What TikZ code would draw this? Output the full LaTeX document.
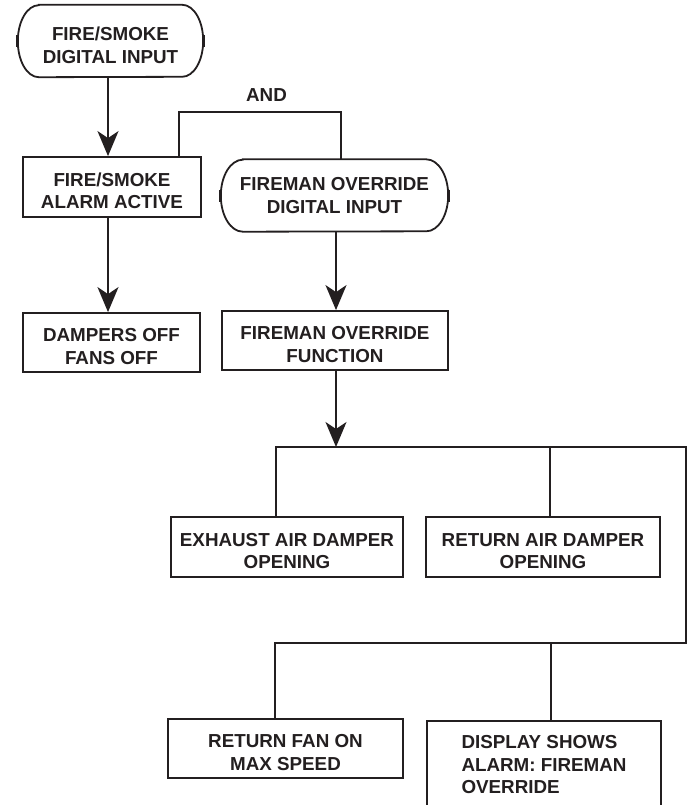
\documentclass[tikz,border=0pt]{standalone}
\usepackage{fontspec}
\setmainfont{Liberation Sans}
\usetikzlibrary{arrows.meta,calc}
\definecolor{ink}{HTML}{231F20}

% Outline of a terminal (start/input) symbol around a borderless node:
% #1 node name, #2 half height, #3 depth of the curved ends
\newcommand\termoutline[3]{%
  \draw[wire] ($(#1.north west)+(#3,0)$) -- ($(#1.north east)+(-#3,0)$)
    arc[start angle=90,end angle=-90,x radius=#3,y radius=#2]
    -- ($(#1.south west)+(#3,0)$)
    arc[start angle=270,end angle=90,x radius=#3,y radius=#2] -- cycle;
  \draw[endtick] ($(#1.west)+(0,6)$) -- ($(#1.west)+(0,-6)$);
  \draw[endtick] ($(#1.east)+(0,6)$) -- ($(#1.east)+(0,-6)$);}

\begin{document}
\begin{tikzpicture}[x=1pt,y=1pt,
  every node/.style={font=\fontsize{18.8}{22.5}\selectfont\bfseries, text=ink},
  stepbox/.style={draw=ink, line width=1.8pt, align=center, inner sep=0pt},
  termbox/.style={align=center, inner sep=0pt, minimum height=72pt},
  % extra room above a two-line label sets it a little below the box centre
  sunk/.style={text height=#1, text depth=0pt},
  sunk/.default=43pt,
  wire/.style={draw=ink, line width=1.8pt},
  flow/.style={wire, -{Stealth[length=25pt,width=21pt,inset=7pt]}},
  endtick/.style={draw=ink, line width=3.2pt}
]
\useasboundingbox (0,0) rectangle (692,-805);

% input symbols
\node[termbox, sunk=45pt, minimum width=185pt] (fsin) at (110.5,-41) {FIRE/SMOKE\\DIGITAL INPUT};
\node[termbox, minimum width=227pt] (fmin) at (334.5,-195.5) {FIREMAN OVERRIDE\\DIGITAL INPUT};
\termoutline{fsin}{36pt}{21pt}
\termoutline{fmin}{36pt}{22pt}

% process boxes
\node[stepbox, sunk, minimum width=178pt, minimum height=60pt] (alarm) at (112,-187) {FIRE/SMOKE\\ALARM ACTIVE};
\node[stepbox, sunk, minimum width=177pt, minimum height=59pt] (dampers) at (111.5,-342.5) {DAMPERS OFF\\FANS OFF};
\node[stepbox, sunk, minimum width=226pt, minimum height=59pt] (fmfunc) at (335,-340.5) {FIREMAN OVERRIDE\\FUNCTION};
\node[stepbox, sunk, minimum width=232pt, minimum height=60pt] (exhaust) at (287,-547) {EXHAUST AIR DAMPER\\OPENING};
\node[stepbox, sunk, minimum width=234pt, minimum height=60pt] (retair) at (543,-547) {RETURN AIR DAMPER\\OPENING};
\node[stepbox, sunk, minimum width=235pt, minimum height=59pt] (retfan) at (285.5,-748.5) {RETURN FAN ON\\MAX SPEED};
\node[stepbox, align=left, minimum width=234pt, minimum height=88pt, anchor=north] (display) at (544,-720) {DISPLAY SHOWS\\ALARM: FIREMAN\\OVERRIDE};

% routing points
\coordinate (colA) at (108,0);
\coordinate (colB) at (336,0);
\coordinate (andL) at (179,-112);
\coordinate (andR) at (341,-112);
\coordinate (busA) at (276,-447);
\coordinate (busAtap) at (550,-447);
\coordinate (busAend) at (686,-447);
\coordinate (busB) at (275,-643);
\coordinate (busBtap) at (551,-643);
\coordinate (busBend) at (686,-643);

% connectors
\draw[flow] (fsin.south -| colA) -- (alarm.north -| colA);
\draw[flow] (alarm.south -| colA) -- (dampers.north -| colA);
\draw[wire] (alarm.north -| andL) -- (andL) -- (andR) -- (fmin.north -| andR);
\node (andlbl) at (266.5,-95.5) {AND};
\draw[flow] (fmin.south -| colB) -- (fmfunc.north -| colB);
\draw[flow] (fmfunc.south -| colB) -- (busA -| colB);
\draw[wire] (exhaust.north -| busA) -- (busA) -- (busAend) -- (busBend) -- (busB) -- (retfan.north -| busB);
\draw[wire] (busAtap) -- (retair.north -| busAtap);
\draw[wire] (busBtap) -- (display.north -| busBtap);
\end{tikzpicture}
\end{document}
